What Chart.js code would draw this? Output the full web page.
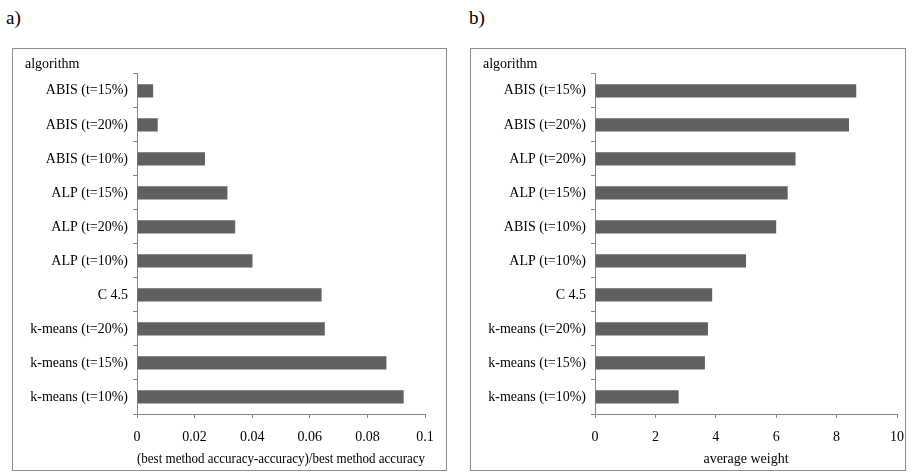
<!DOCTYPE html>
<html>
<head>
<meta charset="utf-8">
<script src="https://cdn.jsdelivr.net/npm/chart.js@4/dist/chart.umd.min.js"></script>
<style>
  body { margin: 0; background: #fff; font-family: "Liberation Serif", serif; }
  .page { position: relative; width: 912px; height: 473px; }
  .tag { position: absolute; top: 7px; font-size: 19px; color: #000; }
  .box { position: absolute; top: 48px; height: 423px; box-sizing: border-box; border: 1px solid #8c8c8c; }
  .box canvas { position: absolute; left: 0; top: 0; }
</style>
</head>
<body>
<div class="page">
  <div class="tag" style="left:6px">a)</div>
  <div class="tag" style="left:469px">b)</div>
  <div class="box" style="left:12px; width:435px"><canvas id="chartA" width="433" height="421"></canvas></div>
  <div class="box" style="left:470px; width:436px"><canvas id="chartB" width="434" height="421"></canvas></div>
</div>
<script>
const labelsA = ['ABIS (t=15%)', 'ABIS (t=20%)', 'ABIS (t=10%)', 'ALP (t=15%)', 'ALP (t=20%)', 'ALP (t=10%)', 'C 4.5', 'k-means (t=20%)', 'k-means (t=15%)', 'k-means (t=10%)'];
const valuesA = [0.0056, 0.0072, 0.0236, 0.0314, 0.0341, 0.0401, 0.0641, 0.0652, 0.0866, 0.0926];

const labelsB = ['ABIS (t=15%)', 'ABIS (t=20%)', 'ALP (t=20%)', 'ALP (t=15%)', 'ABIS (t=10%)', 'ALP (t=10%)', 'C 4.5', 'k-means (t=20%)', 'k-means (t=15%)', 'k-means (t=10%)'];
const valuesB = [8.65, 8.41, 6.64, 6.38, 6.0, 5.0, 3.88, 3.74, 3.64, 2.77];

const axisColor = '#868686';
const font = { family: 'Liberation Serif', size: 14, weight: 'normal' };

function makeChart(id, labels, values, max, step, xTitle, padRight) {
  const ctx = document.getElementById(id).getContext('2d');
  return new Chart(ctx, {
    type: 'bar',
    data: {
      labels: labels,
      datasets: [{
        data: values,
        backgroundColor: '#606060',
        barPercentage: 0.39,
        categoryPercentage: 1
      }]
    },
    options: {
      indexAxis: 'y',
      responsive: false,
      animation: false,
      layout: { padding: { left: 12, right: padRight, top: 0, bottom: 1 } },
      plugins: {
        legend: { display: false },
        tooltip: { enabled: false },
        title: {
          display: true,
          text: 'algorithm',
          align: 'start',
          color: '#000',
          font: font,
          padding: { top: 7, bottom: 1 }
        }
      },
      scales: {
        y: {
          afterFit: s => { s.width = 112; },
          grid: { drawOnChartArea: false, drawTicks: true, tickLength: 4, color: axisColor },
          border: { color: axisColor },
          ticks: { color: '#000', font: font, padding: 5 }
        },
        x: {
          min: 0,
          max: max,
          afterFit: s => { s.height = 55; s.paddingLeft = 0; s.paddingRight = 0; },
          ticks: { stepSize: step, color: '#000', font: font, padding: 11, callback: v => String(+v.toFixed(4)) },
          grid: { drawOnChartArea: false, drawTicks: true, tickLength: 4, color: axisColor },
          border: { color: axisColor },
          title: { display: true, text: xTitle, color: '#000', font: font, padding: { top: 1, bottom: 1 } }
        }
      }
    }
  });
}

makeChart('chartA', labelsA, valuesA, 0.1, 0.02, '(best method accuracy-accuracy)/best method accuracy', 21);
makeChart('chartB', labelsB, valuesB, 10, 2, 'average weight', 8);
</script>
</body>
</html>
